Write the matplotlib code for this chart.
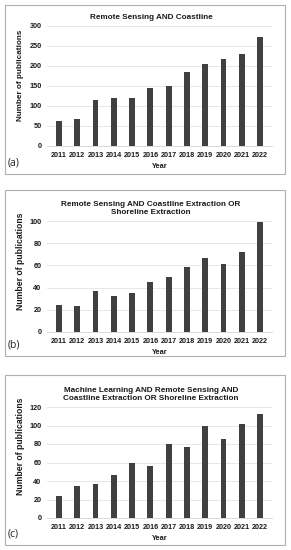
import matplotlib
matplotlib.use("Agg")
import matplotlib.pyplot as plt
from matplotlib.patches import Rectangle

years = ["2011", "2012", "2013", "2014", "2015", "2016", "2017", "2018", "2019", "2020", "2021", "2022"]
pubs_a = [63, 68, 115, 119, 121, 145, 150, 185, 205, 218, 231, 273]
pubs_b = [24, 23, 37, 32, 35, 45, 50, 59, 67, 61, 72, 99]
pubs_c = [24, 35, 37, 47, 59, 56, 80, 77, 100, 85, 102, 112]

titles = ["Remote Sensing AND Coastline",
          "Remote Sensing AND Coastline Extraction OR\nShoreline Extraction",
          "Machine Learning AND Remote Sensing AND\nCoastline Extraction OR Shoreline Extraction"]
panel_labels = ["(a)", "(b)", "(c)"]
ylims = [300, 100, 120]
ysteps = [50, 20, 20]
series = [pubs_a, pubs_b, pubs_c]

W, H = 291, 550
fig = plt.figure(figsize=(W / 100, H / 100), dpi=100)
fig.patch.set_facecolor("white")

# layout in pixels: (axes top, axes bottom, box top, box bottom)
layout = [
    (26, 146, 5, 174),
    (221, 332, 190, 356),
    (407, 518, 375, 545),
]
ylab_y = [0.585, 0.64, 0.65]
ylab_size = [5.9, 6.2, 6.2]
ax_left, ax_right = 47, 272
box_left, box_right = 5, 285

plt.rcParams["font.family"] = ["Liberation Sans", "DejaVu Sans"]
txtcol = "#1a1a1a"
barcol = "#404040"
gridcol = "#e3e3e3"

for i in range(3):
    top, bot, btop, bbot = layout[i]
    ax = fig.add_axes([ax_left / W, 1 - bot / H, (ax_right - ax_left) / W, (bot - top) / H])
    x = list(range(len(years)))
    ax.bar(x, series[i], width=0.32, color=barcol, zorder=3)
    ax.set_xlim(-0.65, 11.65)
    ax.set_ylim(0, ylims[i])
    ax.set_yticks(range(0, ylims[i] + 1, ysteps[i]))
    ax.set_xticks(x)
    ax.set_xticklabels(years)
    ax.grid(axis="y", color=gridcol, linewidth=0.6, zorder=0)
    for s in ["top", "right", "left"]:
        ax.spines[s].set_visible(False)
    ax.spines["bottom"].set_color("#d4d4d4")
    ax.spines["bottom"].set_linewidth(0.6)
    ax.tick_params(axis="both", length=0, labelsize=5.2, labelcolor=txtcol)
    ax.tick_params(axis="x", pad=4)
    ax.tick_params(axis="y", pad=4)
    for lab in ax.get_xticklabels() + ax.get_yticklabels():
        lab.set_fontweight("bold")
    ax.set_title(titles[i], fontsize=5.9, fontweight="bold", color=txtcol, pad=5,
                 linespacing=1.2, x=0.462)
    ax.set_xlabel("Year", fontsize=5.3, fontweight="bold", color=txtcol, labelpad=3)
    ax.set_ylabel("Number of publications", fontsize=ylab_size[i], fontweight="bold", color=txtcol)
    ax.yaxis.label.set_va("center")
    ax.yaxis.set_label_coords((21 - ax_left) / (ax_right - ax_left), ylab_y[i])
    ax.set_facecolor("none")

    fig.add_artist(Rectangle((box_left / W, 1 - bbot / H), (box_right - box_left) / W, (bbot - btop) / H,
                             transform=fig.transFigure, fill=False, edgecolor="#b0b0b0", linewidth=0.8))
    fig.text(8 / W, 1 - (bbot - 11) / H, panel_labels[i], fontsize=7.5, color="#222222",
             ha="left", va="center", family=["Open Sans", "DejaVu Sans"])

fig.savefig("out.png", dpi=100, facecolor="white")
